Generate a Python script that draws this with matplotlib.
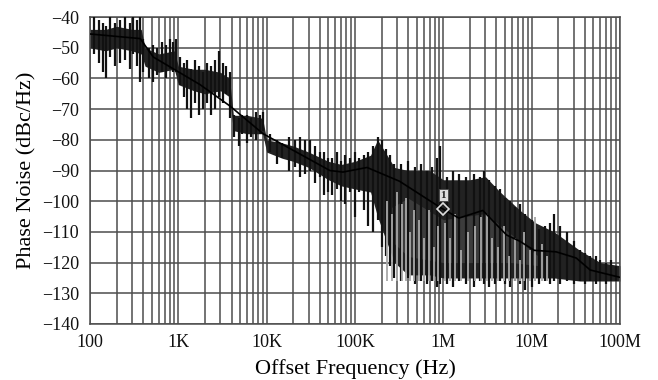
import matplotlib
matplotlib.use("Agg")
import matplotlib.pyplot as plt
from matplotlib.ticker import FixedLocator, LogLocator, NullFormatter

plt.rcParams['font.family'] = ['Liberation Serif', 'DejaVu Serif']

# body of the measured trace (upper / lower edge, dBc/Hz)
env_freq = [100, 150, 200, 300, 380, 420, 600, 900, 1000, 1500, 2000, 3000, 3800,
            4200, 6000, 9000, 10000, 15000, 20000, 30000, 50000, 70000, 100000,
            150000, 180000, 220000, 280000, 400000, 700000, 1e6, 2e6, 3e6, 4.4e6,
            7.4e6, 1.1e7, 1.8e7, 3.5e7, 6e7, 1e8]
env_top = [-44, -44, -43, -44, -44, -50, -52, -51, -56, -57, -57, -58, -60,
           -72, -72, -73, -80, -81, -82, -84, -87, -88, -87,
           -85, -80, -84, -89, -90, -90, -93, -93, -92, -97,
           -103, -107, -110, -116, -120, -121]
env_bot = [-50, -51, -50, -51, -52, -56, -58, -57, -62, -64, -65, -64, -66,
           -77, -78, -78, -84, -86, -87, -89, -93, -95, -96,
           -97, -105, -112, -120, -124, -124, -125, -125, -125, -125,
           -125, -125, -125, -126, -126, -126]

# lighter core of the shaded body
core_freq = [260000, 400000, 1e6, 3e6, 6e6, 1.2e7]
core_top = [-102, -99, -106, -104, -111, -118]
core_bot = [-113, -118, -120, -120, -120, -121]

# averaged trace
line_freq = [100, 370, 520, 1760, 3850, 9100, 52000, 73000, 137000, 320000, 920000,
             1.5e6, 2.8e6, 5.2e6, 7.3e6, 1.07e7, 1.9e7, 3.2e7, 4.6e7, 1e8]
line_db = [-45.5, -47, -53, -62, -69, -78, -90, -90.5, -89, -93.5, -102,
           -105.5, -103, -111, -113, -116, -116.5, -118.5, -122.4, -124.8]

# dark spikes sticking out of the body
spk_freq = [110, 125, 140, 150, 170, 190, 220, 250, 280, 310, 340, 370, 400,
            460, 520, 580, 650, 720, 800, 880, 950,
            1050, 1150, 1250, 1400, 1550, 1700, 1900, 2100, 2350, 2600, 2900, 3200, 3500, 3800,
            4300, 4800, 5300, 6000, 6700, 7500, 8300, 9200,
            11000, 13000, 15000, 18000, 21000, 24000, 27000, 31000, 35000, 40000, 45000, 50000,
            55000, 62000, 70000, 78000, 88000, 100000, 110000, 125000, 140000, 160000,
            180000, 200000, 225000, 250000, 280000,
            330000, 400000, 480000, 560000, 650000, 750000, 850000, 920000,
            1.1e6, 1.3e6, 1.5e6, 1.8e6, 2.2e6, 2.6e6, 2.9e6, 3.3e6, 3.8e6, 4.4e6,
            5e6, 5.7e6, 6.5e6, 7.4e6, 8.5e6, 1e7, 1.2e7, 1.4e7, 1.6e7, 1.8e7,
            2.1e7, 2.5e7, 3e7, 3.5e7, 4e7, 4.6e7, 5.3e7, 6e7, 7e7, 8e7, 9e7]
spk_hi = [-40, -41, -42, -43, -40, -42, -41, -40, -42, -40, -41, -40, -47,
          -50, -49, -50, -48, -49, -47, -48, -47,
          -53, -55, -54, -57, -54, -56, -58, -55, -56, -54, -51, -55, -56, -58,
          -72, -73, -72, -72, -73, -71, -72, -71,
          -78, -80, -81, -79, -80, -79, -80, -80, -82, -84, -84, -86,
          -86, -84, -87, -85, -86, -84, -86, -85, -84, -82,
          -79, -80, -83, -85, -88,
          -88, -87, -89, -88, -90, -89, -86, -82,
          -92, -90, -91, -92, -91, -92, -90, -93, -95, -96,
          -99, -100, -102, -101, -104, -106, -109, -108, -107, -104,
          -108, -110, -113, -116, -117, -118, -118, -119, -120, -119, -121]
spk_lo = [-52, -55, -58, -60, -53, -56, -55, -54, -57, -52, -56, -61, -58,
          -60, -61, -59, -58, -60, -57, -58, -58,
          -62, -66, -70, -73, -68, -72, -70, -68, -72, -70, -66, -68, -65, -73,
          -79, -82, -78, -81, -79, -80, -78, -77,
          -84, -88, -86, -90, -89, -92, -91, -90, -94, -92, -98, -97,
          -98, -96, -100, -101, -97, -105, -97, -103, -108, -110,
          -106, -115, -118, -121, -125,
          -126, -125, -127, -126, -127, -126, -128, -127,
          -127, -128, -126, -127, -128, -126, -127, -128, -127, -126,
          -127, -128, -126, -127, -129, -128, -127, -126, -127, -126,
          -127, -126, -127, -126, -127, -126, -127, -126, -127, -126, -126]

# light gaps cutting up into the dark body
gap_freq = [230000, 260000, 300000, 340000, 380000, 420000, 470000, 530000, 600000,
            680000, 780000, 880000, 1.05e6, 1.2e6, 1.35e6, 1.6e6, 1.9e6, 2.3e6,
            2.7e6, 3.1e6, 3.6e6, 4.2e6, 4.9e6, 5.6e6, 6.4e6, 7.3e6, 8.3e6, 9.5e6,
            1.1e7, 1.3e7, 1.5e7]
gap_top = [-100, -104, -97, -101, -99, -110, -103, -106, -112,
           -103, -115, -108, -107, -112, -104, -116, -110, -108,
           -105, -104, -112, -115, -108, -118, -112, -119, -110, -116,
           -105, -114, -118]

fig = plt.figure(figsize=(6.58, 3.8), dpi=100)
ax = fig.add_axes([0.1368, 0.1474, 0.8054, 0.8076])

ax.fill_between(env_freq, env_bot, env_top, color='#222222', lw=0, zorder=2)
ax.fill_between(core_freq, core_bot, core_top, color='#3c3c3c', lw=0, zorder=2.5)
ax.vlines(spk_freq, spk_lo, spk_hi, color='#111111', lw=1.6, zorder=3)
ax.vlines(gap_freq, [-126] * len(gap_freq), gap_top, color='#a8a8a8', lw=1.3, zorder=4)
ax.plot(line_freq, line_db, color='#000000', lw=1.2, zorder=5)

# marker 1
ax.plot([1e6], [-102.5], marker='D', ms=6, mfc='none', mec='#dddddd', mew=1.2, zorder=6)
ax.text(1e6, -98, '1', fontsize=8, fontweight='bold', ha='center', va='center',
        color='#222222', zorder=7,
        bbox=dict(boxstyle='square,pad=0.15', fc='#dddddd', ec='#444444', lw=0.6))

ax.set_xscale('log')
ax.set_xlim(100, 1e8)
ax.set_ylim(-140, -40)
ax.yaxis.set_major_locator(FixedLocator(range(-140, -39, 10)))
ax.xaxis.set_major_locator(FixedLocator([1e2, 1e3, 1e4, 1e5, 1e6, 1e7, 1e8]))
ax.set_xticklabels(['100', '1K', '10K', '100K', '1M', '10M', '100M'])
ax.xaxis.set_minor_locator(LogLocator(base=10, subs=range(2, 10), numticks=50))
ax.xaxis.set_minor_formatter(NullFormatter())

ax.grid(True, which='both', color='#4d4d4d', lw=1.1, zorder=1)
ax.set_axisbelow(True)
for s in ax.spines.values():
    s.set_color('#4d4d4d')
    s.set_linewidth(1.1)
ax.tick_params(which='both', length=0, labelsize=13, colors='#111111')
ax.tick_params(axis='x', pad=7)
ax.tick_params(axis='y', pad=8)

ax.set_xlabel('Offset Frequency (Hz)', fontsize=16, labelpad=6)
ax.set_ylabel('Phase Noise (dBc/Hz)', fontsize=16, labelpad=4)

fig.savefig('out.png', dpi=100)
